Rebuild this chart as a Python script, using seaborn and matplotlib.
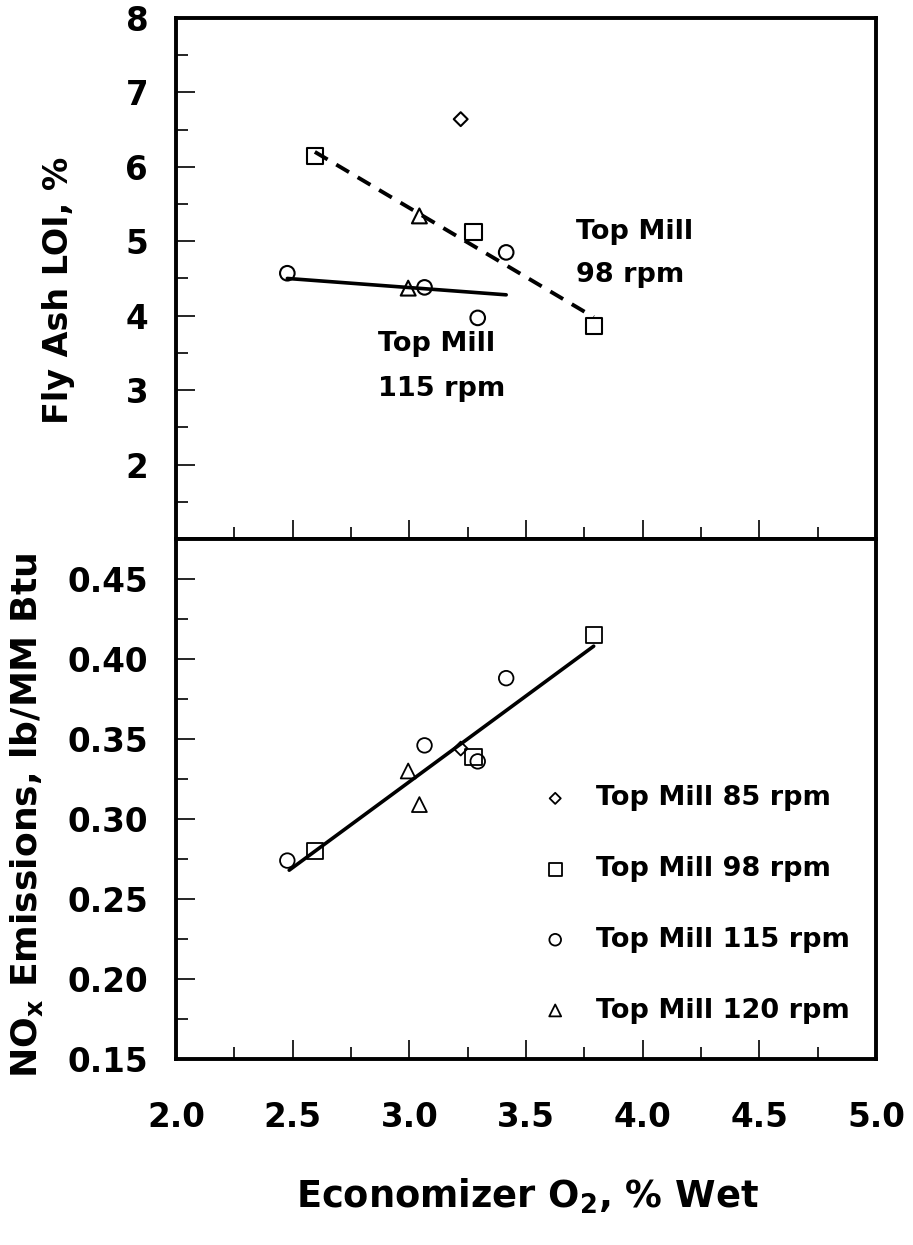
import numpy as np
import pandas as pd
import matplotlib
matplotlib.use("Agg")
import matplotlib.pyplot as plt
from matplotlib.ticker import MultipleLocator, FixedLocator, FormatStrFormatter
import seaborn as sns

# Economizer O2 (% wet) with fly ash LOI (%) and NOx (lb/MM Btu) per top-mill speed
mills = ["Top Mill 85 rpm", "Top Mill 98 rpm", "Top Mill 115 rpm", "Top Mill 120 rpm"]

o2_85 = [3.22]
loi_85 = [6.64]
nox_85 = [0.344]

o2_98 = [2.595, 3.275, 3.79]
loi_98 = [6.14, 5.12, 3.86]
nox_98 = [0.280, 0.339, 0.415]

o2_115 = [2.477, 3.065, 3.293, 3.415]
loi_115 = [4.57, 4.38, 3.97, 4.85]
nox_115 = [0.274, 0.346, 0.336, 0.388]

o2_120 = [2.995, 3.043]
loi_120 = [4.37, 5.34]
nox_120 = [0.330, 0.309]

# trend lines
trend98_o2 = [2.595, 3.79]
trend98_loi = [6.20, 3.98]
trend115_o2 = [2.477, 3.415]
trend115_loi = [4.50, 4.28]
trend_nox_o2 = [2.485, 3.79]
trend_nox = [0.268, 0.408]

x_ticks = [2.0, 2.5, 3.0, 3.5, 4.0, 4.5, 5.0]
loi_ticks = [2, 3, 4, 5, 6, 7, 8]
nox_ticks = [0.15, 0.20, 0.25, 0.30, 0.35, 0.40, 0.45]

sns.set_theme(style="white")
plt.rcParams["font.family"] = ["DejaVu Sans"]
plt.rcParams["font.weight"] = "bold"
plt.rcParams["mathtext.fontset"] = "dejavusans"
plt.rcParams["mathtext.default"] = "bf"
plt.rcParams["text.color"] = "black"
plt.rcParams["axes.labelcolor"] = "black"
plt.rcParams["xtick.color"] = "black"
plt.rcParams["ytick.color"] = "black"

fig = plt.figure(figsize=(9.13, 12.45), dpi=100)
ax_top = fig.add_axes([0.1928, 0.5671, 0.7667, 0.4185])
ax_bot = fig.add_axes([0.1928, 0.1494, 0.7667, 0.4177])

series = [
    (mills[0], "D", 50, o2_85, loi_85, nox_85),
    (mills[1], "s", 135, o2_98, loi_98, nox_98),
    (mills[2], "o", 110, o2_115, loi_115, nox_115),
    (mills[3], "^", 115, o2_120, loi_120, nox_120),
]

# Trend lines
sns.lineplot(x=trend98_o2, y=trend98_loi, ax=ax_top, color="black",
             linewidth=2.8, linestyle=(0, (3.8, 2.6)), legend=False)
sns.lineplot(x=trend115_o2, y=trend115_loi, ax=ax_top, color="black",
             linewidth=2.6, legend=False)
sns.lineplot(x=trend_nox_o2, y=trend_nox, ax=ax_bot, color="black",
             linewidth=2.6, legend=False)

for name, mk, size, o2, loi, nox in series:
    sns.scatterplot(x=o2, y=loi, ax=ax_top, marker=mk, s=size,
                    facecolor="none", edgecolor="black", linewidth=1.5,
                    legend=False, zorder=3)
    sns.scatterplot(x=o2, y=nox, ax=ax_bot, marker=mk, s=size,
                    facecolor="none", edgecolor="black", linewidth=1.3,
                    label=name, zorder=3)

ax_top.text(3.716, 5.12, "Top Mill", fontsize=19.5, va="center", ha="left")
ax_top.text(3.716, 4.54, "98 rpm", fontsize=19.5, va="center", ha="left")
ax_top.text(2.866, 3.62, "Top Mill", fontsize=19.5, va="center", ha="left")
ax_top.text(2.866, 3.01, "115 rpm", fontsize=19.5, va="center", ha="left")

for ax in (ax_top, ax_bot):
    ax.set_xlim(2.0, 5.0)
    ax.xaxis.set_major_locator(FixedLocator(x_ticks))
    ax.xaxis.set_minor_locator(MultipleLocator(0.25))
    ax.tick_params(which="both", direction="in", top=False, right=False,
                   left=True, bottom=True, width=1.2)
    ax.tick_params(which="major", length=13.5, labelsize=23.5)
    ax.tick_params(which="minor", length=8.5)
    ax.tick_params(axis="x", which="major", pad=30)
    ax.tick_params(axis="y", which="major", pad=20)
    for sp in ax.spines.values():
        sp.set_linewidth(2.8)
        sp.set_color("black")
        sp.set_visible(True)
    ax.set_facecolor("white")

ax_top.set_ylim(1, 8)
ax_top.yaxis.set_major_locator(FixedLocator(loi_ticks))
ax_top.yaxis.set_minor_locator(MultipleLocator(0.5))
ax_top.tick_params(axis="x", labelbottom=False)
ax_top.set_xlabel("")
ax_top.set_ylabel("Fly Ash LOI, %", fontsize=24, fontweight="bold")
ax_top.yaxis.set_label_coords(-0.145, 0.478)

ax_bot.set_ylim(0.15, 0.475)
ax_bot.yaxis.set_major_locator(FixedLocator(nox_ticks))
ax_bot.yaxis.set_minor_locator(MultipleLocator(0.025))
ax_bot.yaxis.set_major_formatter(FormatStrFormatter("%.2f"))
ax_bot.xaxis.set_major_formatter(FormatStrFormatter("%.1f"))
ax_bot.set_ylabel("NO$_x$ Emissions, lb/MM Btu", fontsize=26, fontweight="bold")
ax_bot.yaxis.set_label_coords(-0.187, 0.469)
ax_bot.set_xlabel("Economizer O$_2$, % Wet", fontsize=26.5, fontweight="bold")
ax_bot.xaxis.set_label_coords(0.502, -0.227)

leg = ax_bot.legend(loc="upper left", bbox_to_anchor=(0.503, 0.552),
                    frameon=False, fontsize=19.5, handlelength=1.0,
                    handletextpad=1.0, labelspacing=1.65, borderpad=0,
                    markerscale=0.8)

fig.savefig("out.png", dpi=100, facecolor="white")
